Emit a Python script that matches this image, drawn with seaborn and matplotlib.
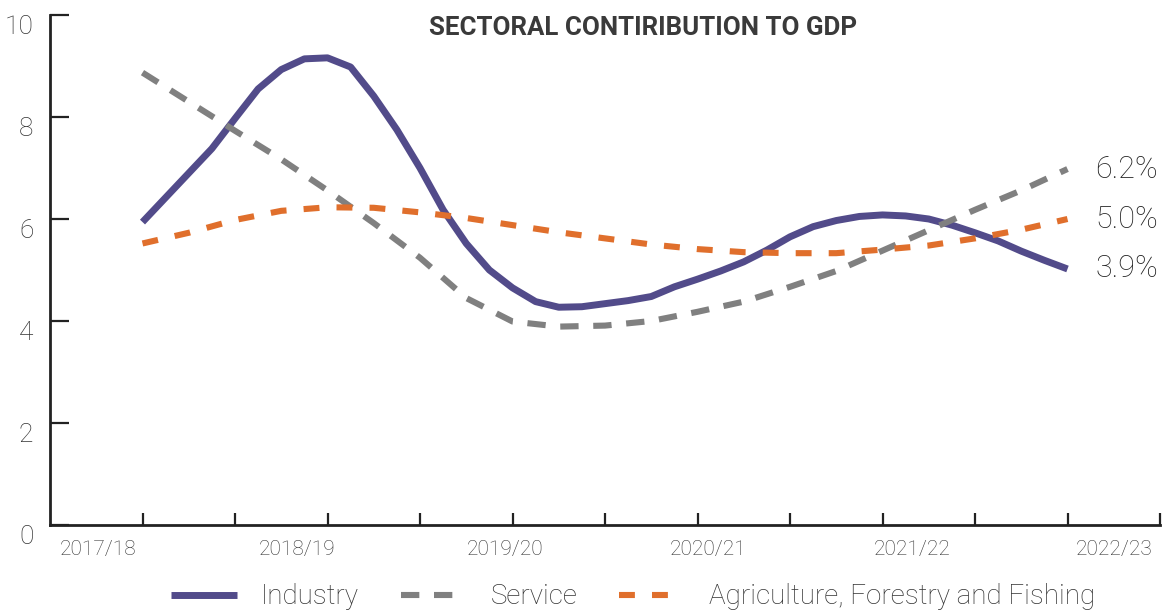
import numpy as np
import pandas as pd
import matplotlib
matplotlib.use("Agg")
import matplotlib.pyplot as plt
import matplotlib.transforms as mtransforms
import seaborn as sns

# ---------------- data ----------------
title = "SECTORAL CONTIRIBUTION TO GDP"
year_labels = ["2017/18", "2018/19", "2019/20", "2020/21", "2021/22", "2022/23"]
series_names = ["Industry", "Service", "Agriculture, Forestry and Fishing"]
end_labels = ["3.9%", "6.2%", "5.0%"]

# values, first to last year
# Industry: quarter-step samples
industry = [5.94, 6.42, 6.90, 7.38, 7.97, 8.55, 8.93, 9.14, 9.16, 8.98,
            8.41, 7.75, 7.00, 6.18, 5.52, 5.00, 4.65, 4.38, 4.27, 4.28,
            4.34, 4.40, 4.48, 4.67, 4.82, 4.98, 5.16, 5.39, 5.65, 5.85,
            5.97, 6.05, 6.08, 6.06, 6.00, 5.88, 5.73, 5.57, 5.37, 5.19, 5.02]
# Service and Agriculture: half-step samples
service = [8.87, 8.30, 7.73, 7.17, 6.56, 5.92, 5.24, 4.45, 3.99, 3.89, 3.91,
           4.00, 4.18, 4.38, 4.67, 4.98, 5.38, 5.78, 6.18, 6.56, 6.98]
agriculture = [5.52, 5.73, 5.98, 6.16, 6.23, 6.22, 6.13, 6.02, 5.88, 5.74, 5.62,
               5.50, 5.41, 5.35, 5.33, 5.33, 5.40, 5.48, 5.62, 5.79, 6.00]

# ---------------- style ----------------
sns.set_theme(style="white")
plt.rcParams["font.family"] = ["Roboto", "DejaVu Sans"]

colors = ["#524B8A", "#808080", "#E06F2C"]
dash_styles = [None, (3.0, 2.4), (2.6, 2.8)]
widths = [5.0, 4.4, 4.4]


def positions(vals):
    # samples evenly spread from the first year (1) to the last year (11)
    return np.linspace(1, 11, len(vals))


frames = []
for name, vals in zip(series_names, [industry, service, agriculture]):
    frames.append(pd.DataFrame({"x": positions(vals), "value": vals, "series": name}))
df = pd.concat(frames, ignore_index=True)

fig = plt.figure(figsize=(11.7, 6.12), dpi=100)
ax = fig.add_axes([50 / 1170, 1 - 525 / 612, 1110 / 1170, 510 / 612])

handles = []
for name, c, d, w in zip(series_names, colors, dash_styles, widths):
    sub = df[df["series"] == name]
    kw = {}
    if d is not None:
        kw["dashes"] = d
    sns.lineplot(data=sub, x="x", y="value", color=c, linewidth=w, ax=ax,
                 label=name, solid_capstyle="butt", dash_capstyle="butt",
                 solid_joinstyle="round", **kw)
    handles.append(ax.get_lines()[-1])

ax.set_xlim(0, 12)
ax.set_ylim(0, 10)
ax.set_xlabel("")
ax.set_ylabel("")

for s in ["top", "right"]:
    ax.spines[s].set_visible(False)
for s in ["left", "bottom"]:
    ax.spines[s].set_color("#222222")
    ax.spines[s].set_linewidth(2.0)

# y ticks
ax.set_yticks([0, 2, 4, 6, 8, 10])
ax.set_yticklabels(["0", "2", "4", "6", "8", "10"])
ax.tick_params(axis="y", direction="in", length=14, width=1.6, color="#222222",
               labelsize=19, labelcolor="#333333", pad=12, left=True)
for lab in ax.get_yticklabels():
    lab.set_fontweight("light")
    lab.set_transform(lab.get_transform() +
                      mtransforms.ScaledTranslation(0, -9 / 100, fig.dpi_scale_trans))

# x labels (major, no marks) + minor tick marks
label_pos = [0.52, 2.67, 4.92, 7.12, 9.32, 11.50]
ax.set_xticks(label_pos)
ax.set_xticklabels(year_labels)
ax.set_xticks(np.arange(1, 13), minor=True)
ax.tick_params(axis="x", which="major", length=0, labelsize=15,
               labelcolor="#333333", pad=11, bottom=True)
ax.tick_params(axis="x", which="minor", direction="in", length=9, width=1.6,
               color="#222222", bottom=True)
for lab in ax.get_xticklabels():
    lab.set_fontweight("light")

# end labels
last_x = positions(industry)[-1]
last_vals = [industry[-1], service[-1], agriculture[-1]]
for txt, v in zip(end_labels, last_vals):
    ax.annotate(txt, xy=(last_x, v), xytext=(20, 0), textcoords="offset points",
                ha="left", va="center", fontsize=22, fontweight="light",
                color="#222222", annotation_clip=False)

# title
fig.text(643 / 1170, 1 - 28 / 612, title, ha="center", va="center",
         fontsize=18.6, fontweight="bold", color="#3A3A3A")

# legend
if ax.get_legend():
    ax.get_legend().remove()
leg = fig.legend(handles=handles, labels=series_names, loc="center",
                 bbox_to_anchor=(633 / 1170, 1 - 597 / 612), ncol=3, frameon=False,
                 fontsize=20, handlelength=2.37, handletextpad=0.86, columnspacing=1.5)
for t in leg.get_texts():
    t.set_fontweight("light")
    t.set_color("#333333")

fig.savefig("out.png", dpi=100)
